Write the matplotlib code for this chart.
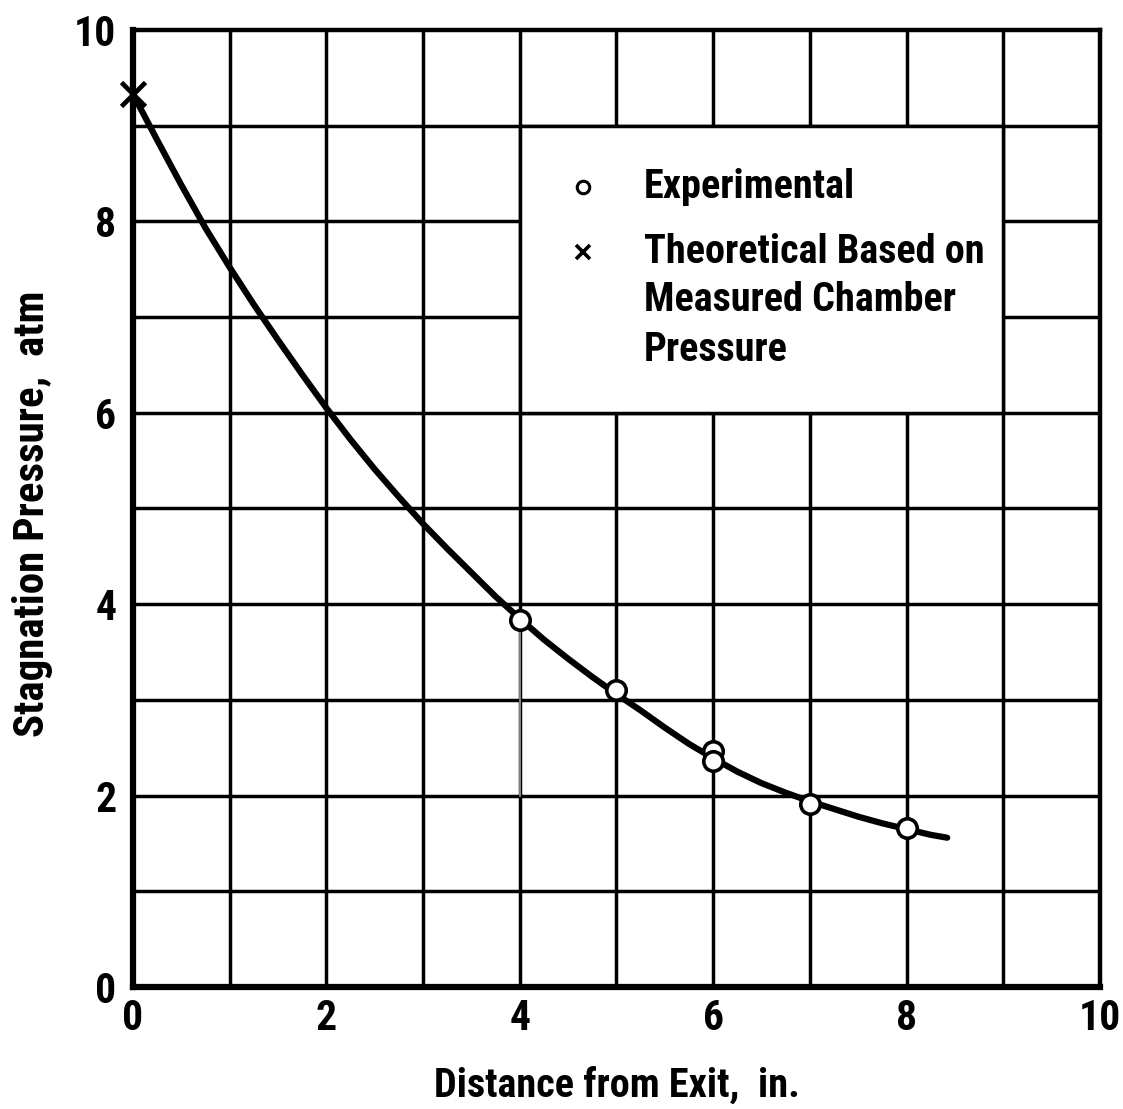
import matplotlib
matplotlib.use('Agg')
import matplotlib.pyplot as plt
from matplotlib.patches import Rectangle

FONT = ['Roboto Condensed', 'PT Sans Narrow', 'Liberation Sans Narrow', 'DejaVu Sans']

# faired curve
curve_x = [0.0, 0.25, 0.5, 0.75, 1.0, 1.25, 1.5, 1.75, 2.0, 2.25, 2.5, 2.75, 3.0, 3.25, 3.5, 3.75,
           4.0, 4.25, 4.5, 4.75, 5.0, 5.25, 5.5, 5.75, 6.0, 6.25, 6.5, 6.75, 7.0, 7.25, 7.5, 7.75,
           8.0, 8.25, 8.42]
curve_y = [9.33, 8.85, 8.38, 7.93, 7.52, 7.13, 6.76, 6.40, 6.05, 5.72, 5.41, 5.12, 4.84, 4.58, 4.33, 4.08,
           3.85, 3.63, 3.43, 3.24, 3.06, 2.89, 2.71, 2.54, 2.39, 2.25, 2.13, 2.03, 1.94, 1.86, 1.78, 1.71,
           1.65, 1.59, 1.56]

# experimental points (open circles)
exp_x = [4, 5, 6, 6, 7, 8]
exp_y = [3.83, 3.10, 2.47, 2.36, 1.91, 1.66]

# theoretical point from measured chamber pressure
theo_x = [0.0]
theo_y = [9.33]

plt.rcParams['font.family'] = FONT
plt.rcParams['font.weight'] = 'bold'
plt.rcParams['axes.labelweight'] = 'bold'

fig = plt.figure(figsize=(11.23, 11.09), dpi=100)
ax = fig.add_axes([0.1184, 0.110, 0.8611, 0.863])

ax.set_xlim(0, 10)
ax.set_ylim(0, 10)

# heavy grid lines, every unit
for v in range(1, 10):
    ax.axvline(v, color='black', lw=2.5, zorder=1)
    ax.axhline(v, color='black', lw=2.5, zorder=1)

# blank box behind the key
ax.add_patch(Rectangle((4, 6), 5, 3, facecolor='white', edgecolor='black', lw=2.5, zorder=2))

# faint construction line under the x=4 point
ax.plot([4, 4], [2, 3.83], color='#9a9a9a', lw=1.2, zorder=2)

ax.plot(curve_x, curve_y, color='black', lw=4.5, solid_capstyle='round', solid_joinstyle='round',
        zorder=3, clip_on=False)
ax.plot(exp_x, exp_y, 'o', ms=14, mfc='white', mec='black', mew=2.6, zorder=4)
ax.plot(theo_x, theo_y, 'x', ms=17, mec='black', mew=3.4, zorder=4, clip_on=False)

# key
ax.plot([4.65], [8.36], 'o', ms=9, mfc='white', mec='black', mew=2.2, zorder=4)
ax.plot([4.65], [7.68], 'x', ms=10, mec='black', mew=2.6, zorder=4)
key_kw = dict(fontsize=29, va='center', ha='left', zorder=5)
ax.text(5.28, 8.36, 'Experimental', **key_kw)
ax.text(5.28, 7.68, 'Theoretical Based on', **key_kw)
ax.text(5.28, 7.18, 'Measured Chamber', **key_kw)
ax.text(5.28, 6.66, 'Pressure', **key_kw)

ax.set_xticks(range(0, 11, 2))
ax.set_yticks(range(0, 11, 2))
ax.tick_params(length=0, labelsize=30)
ax.tick_params(axis='y', pad=12)
ax.tick_params(axis='x', pad=8)

for side in ['left', 'bottom']:
    ax.spines[side].set_linewidth(4.5)
for side in ['top', 'right']:
    ax.spines[side].set_linewidth(3.2)
for s in ax.spines.values():
    s.set_zorder(6)

ax.set_xlabel('Distance from Exit,  in.', fontsize=29, labelpad=20)
ax.set_ylabel('Stagnation Pressure,  atm', fontsize=31)
ax.yaxis.set_label_coords(-0.083, 0.495)

fig.savefig('out.png', dpi=100)
